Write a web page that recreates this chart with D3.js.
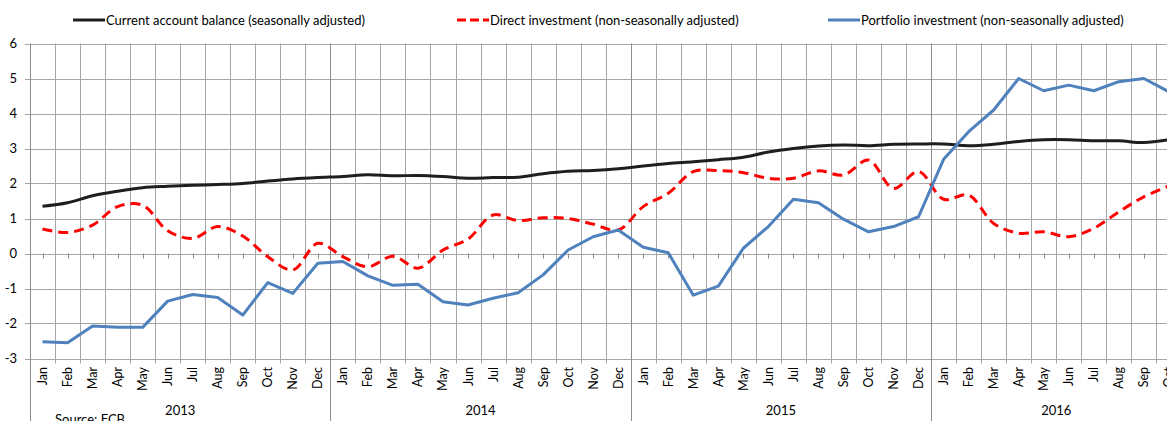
<!DOCTYPE html>
<html>
<head>
<meta charset="utf-8">
<script src="https://cdn.jsdelivr.net/npm/d3@7"></script>
<style>
  body { margin: 0; background: #fff; }
  svg { display: block; }
  text { font-family: Lato, "Liberation Sans", sans-serif; fill: #000; }
</style>
</head>
<body>
<div id="chart"></div>
<script>
var months = ['Jan', 'Feb', 'Mar', 'Apr', 'May', 'Jun', 'Jul', 'Aug', 'Sep', 'Oct', 'Nov', 'Dec'];
var years = ['2013', '2014', '2015', '2016'];
var yTicks = [-3, -2, -1, 0, 1, 2, 3, 4, 5, 6];

// Jan 2013 .. Oct 2016
var currentAccount = [
    1.35, 1.45, 1.65, 1.78, 1.88, 1.92, 1.95, 1.97, 2.0, 2.07, 2.13, 2.17,
    2.2, 2.25, 2.22, 2.23, 2.2, 2.15, 2.17, 2.18, 2.28, 2.35, 2.37, 2.42,
    2.5, 2.57, 2.62, 2.68, 2.75, 2.9, 3.0, 3.07, 3.1, 3.08, 3.12, 3.13,
    3.13, 3.08, 3.12, 3.2, 3.25, 3.25, 3.22, 3.22, 3.17, 3.25
];
var directInvestment = [
    0.7, 0.6, 0.81, 1.34, 1.38, 0.65, 0.43, 0.77, 0.5, -0.09, -0.47, 0.29,
    -0.09, -0.38, -0.08, -0.42, 0.1, 0.41, 1.1, 0.94, 1.02, 1.0, 0.84, 0.67,
    1.34, 1.72, 2.34, 2.37, 2.31, 2.15, 2.15, 2.36, 2.24, 2.67, 1.86, 2.34,
    1.55, 1.67, 0.86, 0.58, 0.62, 0.48, 0.72, 1.19, 1.62, 1.93
];
var portfolioInvestment = [
    -2.52, -2.55, -2.07, -2.11, -2.11, -1.36, -1.17, -1.26, -1.76, -0.83, -1.14, -0.28,
    -0.23, -0.64, -0.91, -0.88, -1.38, -1.47, -1.28, -1.12, -0.61, 0.1, 0.48, 0.67,
    0.18, 0.02, -1.19, -0.93, 0.15, 0.77, 1.55, 1.45, 0.98, 0.62, 0.77, 1.05,
    2.69, 3.48, 4.1, 5.0, 4.65, 4.81, 4.65, 4.91, 5.0, 4.62
];

var seriesNames = [
    'Current account balance (seasonally adjusted)',
    'Direct investment (non-seasonally adjusted)',
    'Portfolio investment (non-seasonally adjusted)'
];

var width = 1167,
    height = 421;

var periods = currentAccount.map(function(d, i) {
    return {i: i, month: months[i % 12], year: years[Math.floor(i / 12)]};
});

var x = d3.scaleBand()
    .domain(periods.map(function(d) { return d.i; }))
    .range([30, 30 + periods.length * 25.03])
    .paddingInner(0)
    .paddingOuter(0);

var y = d3.scaleLinear()
    .domain([-3, 6])
    .range([358.5, 43.5]);

var svg = d3.select('#chart')
    .append('svg')
    .attr('width', width)
    .attr('height', height);

// top note, mostly cut off by the window like in the source
svg.append('text')
    .attr('x', 32)
    .attr('y', -2.5)
    .style('font-size', '12px')
    .text('(percentage of GDP; yearly)');

// horizontal gridlines
svg.append('g')
    .selectAll('line')
    .data(yTicks)
    .enter()
    .append('line')
    .attr('x1', 25)
    .attr('x2', width)
    .attr('y1', function(d) { return Math.round(y(d)) + 0.5; })
    .attr('y2', function(d) { return Math.round(y(d)) + 0.5; })
    .attr('stroke', '#a6a6a6')
    .attr('stroke-width', 1);

// vertical gridlines at category edges
svg.append('g')
    .selectAll('line')
    .data(periods)
    .enter()
    .append('line')
    .attr('x1', function(d) { return Math.round(x(d.i)) + 0.5; })
    .attr('x2', function(d) { return Math.round(x(d.i)) + 0.5; })
    .attr('y1', y(6))
    .attr('y2', function(d) { return d.i % 12 === 0 ? height : y(-3) + 5; })
    .attr('stroke', function(d) { return d.i % 12 === 0 ? '#8c8c8c' : '#a6a6a6'; })
    .attr('stroke-width', 1);

// small category ticks on the zero line
svg.append('g')
    .selectAll('line')
    .data(periods)
    .enter()
    .append('line')
    .attr('x1', function(d) { return Math.round(x(d.i) + x.bandwidth() / 2) + 0.5; })
    .attr('x2', function(d) { return Math.round(x(d.i) + x.bandwidth() / 2) + 0.5; })
    .attr('y1', y(0))
    .attr('y2', y(0) + 5)
    .attr('stroke', '#8c8c8c');

// y tick labels
svg.append('g')
    .selectAll('text')
    .data(yTicks)
    .enter()
    .append('text')
    .attr('x', 17)
    .attr('y', function(d) { return y(d) + 4.5; })
    .attr('text-anchor', 'end')
    .style('font-size', '13px')
    .text(function(d) { return d; });

// month labels
svg.append('g')
    .selectAll('text')
    .data(periods)
    .enter()
    .append('text')
    .attr('transform', function(d) {
        return 'translate(' + (x(d.i) + x.bandwidth() / 2 + 4.5) + ',367) rotate(-90)';
    })
    .attr('text-anchor', 'end')
    .style('font-size', '12.5px')
    .text(function(d) { return d.month; });

// year labels centred on their months
svg.append('g')
    .selectAll('text')
    .data(years)
    .enter()
    .append('text')
    .attr('x', function(yr) {
        var ps = periods.filter(function(p) { return p.year === yr; });
        return (x(ps[0].i) + x(ps[ps.length - 1].i) + x.bandwidth()) / 2;
    })
    .attr('y', 415)
    .attr('text-anchor', 'middle')
    .style('font-size', '13px')
    .text(function(d) { return d; });

svg.append('text')
    .attr('x', 55)
    .attr('y', 424)
    .style('font-size', '13px')
    .text('Source: ECB');

var lineSmooth = d3.line()
    .x(function(d, i) { return x(i) + x.bandwidth() / 2; })
    .y(function(d) { return y(d); })
    .curve(d3.curveCatmullRom.alpha(0.5));

var lineStraight = d3.line()
    .x(function(d, i) { return x(i) + x.bandwidth() / 2; })
    .y(function(d) { return y(d); });

var series = [
    {name: seriesNames[0], values: currentAccount, color: '#1e1e1e', dash: null, line: lineSmooth},
    {name: seriesNames[1], values: directInvestment, color: '#ff0000', dash: '10,6', line: lineSmooth},
    {name: seriesNames[2], values: portfolioInvestment, color: '#4f81bd', dash: null, line: lineStraight}
];

svg.append('g')
    .selectAll('path')
    .data(series)
    .enter()
    .append('path')
    .attr('d', function(d) { return d.line(d.values); })
    .attr('fill', 'none')
    .attr('stroke', function(d) { return d.color; })
    .attr('stroke-width', 3)
    .attr('stroke-linejoin', 'round')
    .attr('stroke-dasharray', function(d) { return d.dash; });

// legend
var legendX = [73, 457, 828];
var legend = svg.append('g')
    .selectAll('g')
    .data(series)
    .enter()
    .append('g')
    .attr('transform', function(d, i) { return 'translate(' + legendX[i] + ',20)'; });

legend.append('line')
    .attr('x1', 0)
    .attr('x2', 32)
    .attr('y1', 0)
    .attr('y2', 0)
    .attr('stroke', function(d) { return d.color; })
    .attr('stroke-width', 3)
    .attr('stroke-dasharray', function(d) { return d.dash ? '9,4' : null; });

legend.append('text')
    .attr('x', 33)
    .attr('y', 4.5)
    .style('font-size', '13px')
    .text(function(d) { return d.name; });
</script>
</body>
</html>
